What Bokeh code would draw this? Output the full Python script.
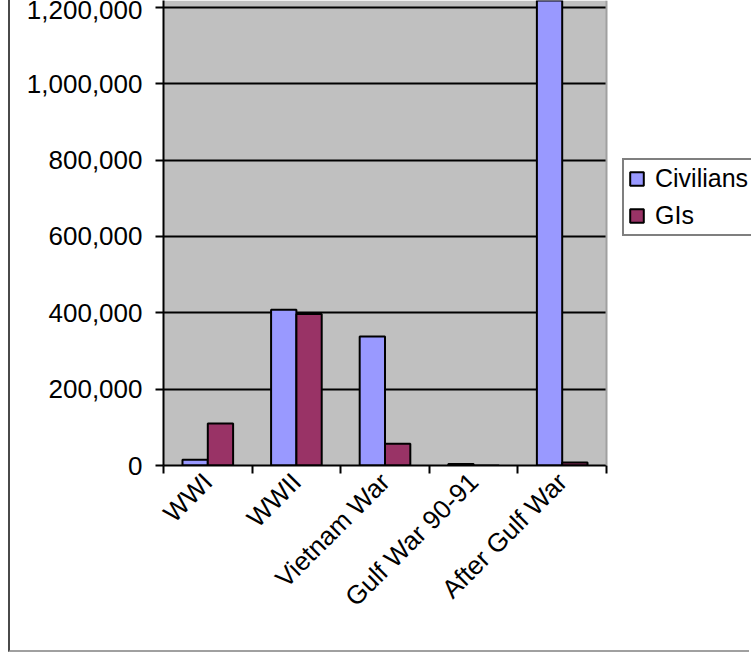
import numpy as np
from math import pi
from bokeh.plotting import figure
from bokeh.models import (ColumnDataSource, Range1d, LinearAxis, FixedTicker,
                          NumeralTickFormatter, Legend, LegendItem, Span, Grid,
                          BoxAnnotation)
from bokeh.embed import file_html
from bokeh.resources import INLINE

# ---- data ----
categories = ["WWI", "WWII", "Vietnam War", "Gulf War 90-91", "After Gulf War"]
civilians = [15000, 408000, 338000, 4000, 1300000]
gis = [110000, 397000, 57000, 300, 8000]
y_ticks = [0, 200000, 400000, 600000, 800000, 1000000, 1200000]

FONT = "Liberation Sans"
CIV_COLOR = "#9999FF"
GI_COLOR = "#993366"
PLOT_BG = "#C0C0C0"

n = len(categories)
centers = list(range(1, n + 1))
bar_w = 1 / 3.5
src = ColumnDataSource(dict(
    x_civ=[c - bar_w / 2 for c in centers],
    x_gi=[c + bar_w / 2 for c in centers],
    civ=civilians,
    gi=gis,
))

# frame spans plot area (163..606 px) plus the legend zone up to the right edge
area_lo, area_hi = 0.5, n + 0.5
x_end = area_lo + n * (751 - 163) / (606 - 163)

p = figure(width=741, height=652, output_backend="svg", toolbar_location=None,
           x_range=Range1d(area_lo, x_end), y_range=Range1d(0, 1218340),
           x_axis_location=None, y_axis_location=None,
           min_border_left=153, min_border_right=0, min_border_top=0,
           min_border_bottom=187,
           background_fill_color="white", border_fill_color="white",
           outline_line_color=None,
           styles={"margin-left": "8px",
                   "border-left": "2px solid #4a4a4a",
                   "border-bottom": "2px solid #a0a0a0"})

# drop default grids
p.center = [r for r in p.center if not isinstance(r, Grid)]

# grey plot area
p.add_layout(BoxAnnotation(left=area_lo, right=area_hi, fill_color=PLOT_BG,
                           fill_alpha=1, line_color=None, level="underlay"))

# y axis
yaxis = LinearAxis(ticker=FixedTicker(ticks=y_ticks),
                   formatter=NumeralTickFormatter(format="0,0"),
                   major_tick_out=8, major_tick_in=0,
                   minor_tick_out=0, minor_tick_in=0,
                   major_label_standoff=13,
                   axis_line_color="black", axis_line_width=2,
                   major_tick_line_color="black", major_tick_line_width=2,
                   major_label_text_font=FONT, major_label_text_font_size="26px",
                   major_label_text_color="black")
p.add_layout(yaxis, "left")
p.add_layout(Grid(dimension=1, ticker=yaxis.ticker, grid_line_color="black",
                  grid_line_width=2, cross_bounds=(area_lo, area_hi)))

# x axis: boundary ticks
xtick_axis = LinearAxis(ticker=FixedTicker(ticks=[c - 0.5 for c in centers] + [n + 0.5]),
                        bounds=(area_lo, area_hi),
                        major_label_text_font_size="0px", major_label_text_color=None,
                        major_label_standoff=0,
                        major_tick_out=8, major_tick_in=0,
                        minor_tick_out=0, minor_tick_in=0,
                        axis_line_color="black", axis_line_width=2,
                        major_tick_line_color="black", major_tick_line_width=2)
p.add_layout(xtick_axis, "below")

# x axis: category labels
xlab_axis = LinearAxis(ticker=FixedTicker(ticks=centers),
                       major_label_overrides={c: cat for c, cat in zip(centers, categories)},
                       major_label_orientation=pi / 4,
                       major_label_standoff=4,
                       major_tick_out=0, major_tick_in=0,
                       minor_tick_out=0, minor_tick_in=0,
                       axis_line_color=None, major_tick_line_color=None,
                       major_label_text_font=FONT, major_label_text_font_size="26px",
                       major_label_text_color="black")
p.add_layout(xlab_axis, "below")

# right edge of plot area
p.add_layout(Span(location=area_hi, dimension="height", line_color="#a0a0a0", line_width=2))

r1 = p.vbar(x="x_civ", top="civ", width=bar_w, source=src,
            fill_color=CIV_COLOR, line_color="black", line_width=2)
r2 = p.vbar(x="x_gi", top="gi", width=bar_w, source=src,
            fill_color=GI_COLOR, line_color="black", line_width=2)

legend = Legend(items=[LegendItem(label="Civilians", renderers=[r1]),
                       LegendItem(label="GIs", renderers=[r2])],
                location=(459, 229),
                border_line_color="black", border_line_width=2,
                background_fill_color="white", background_fill_alpha=1,
                label_text_font=FONT, label_text_font_size="25px",
                label_text_color="black", label_width=115,
                glyph_width=17, glyph_height=17, label_standoff=10,
                padding=4, spacing=8, margin=0)
p.add_layout(legend, "center")

open("out.html", "w").write(file_html(p, INLINE))
